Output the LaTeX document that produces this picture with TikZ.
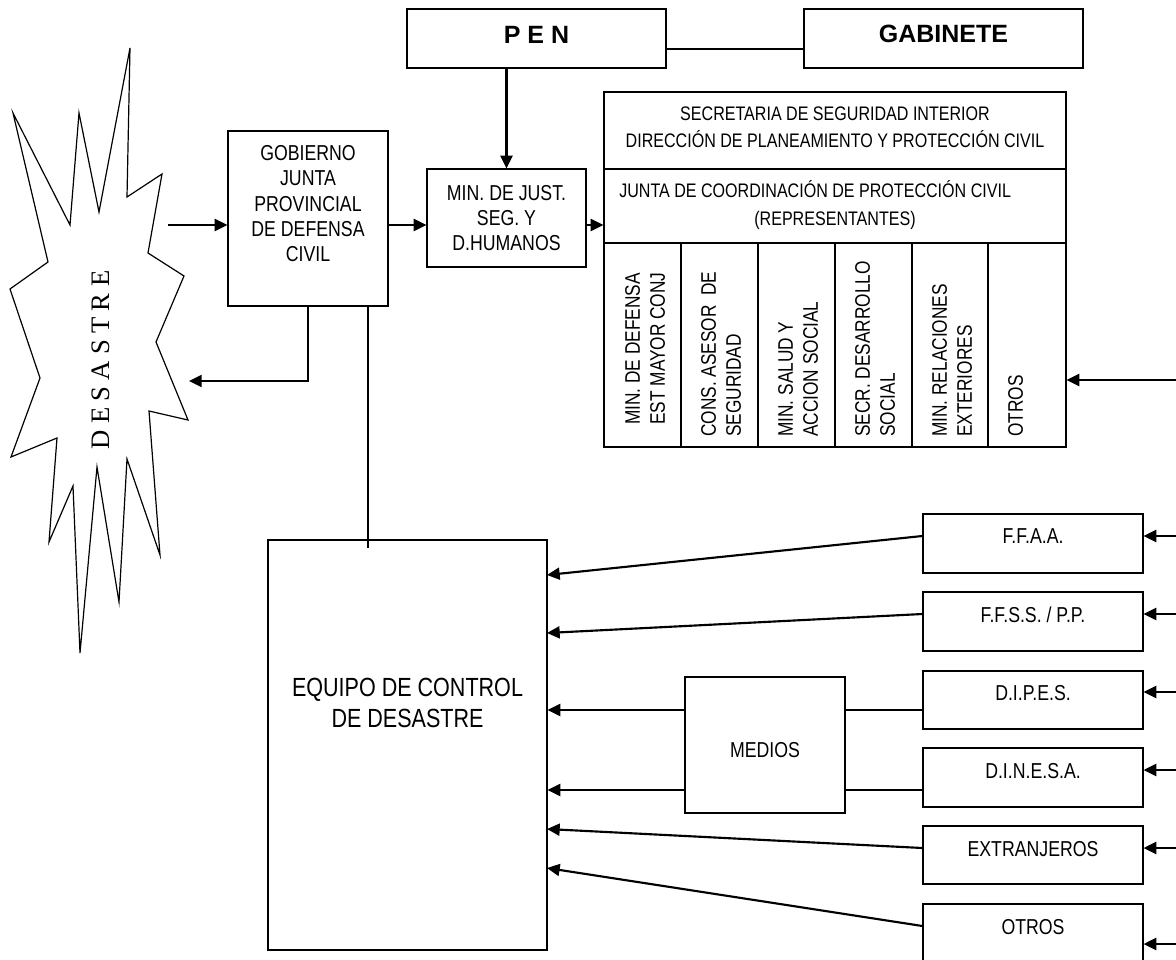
\documentclass[tikz,border=0pt]{standalone}
\usepackage{fontspec}
\setmainfont{Liberation Sans}
\newfontfamily\nar[FakeStretch=0.82]{Liberation Sans}
\newfontfamily\tms{Liberation Serif}
\usetikzlibrary{arrows.meta,fit}
\begin{document}
\begin{tikzpicture}[x=0.75pt,y=-0.75pt,
 box/.style={draw,line width=0.9pt,inner sep=0pt},
 arr/.style={line width=1.6pt,-{Triangle[length=9.5pt,width=9pt]}},
 thk/.style={line width=1.6pt},
 thn/.style={line width=0.8pt},
 tl/.style={inner sep=0pt,anchor=base,font=\nar\fontsize{16.2}{19}\selectfont},
 th/.style={inner sep=0pt,anchor=base,font=\nar\fontsize{14.7}{18}\selectfont},
 te/.style={inner sep=0pt,anchor=base,font=\nar\fontsize{19.7}{23}\selectfont},
 tb/.style={inner sep=0pt,anchor=base,font=\bfseries\fontsize{18.75}{22}\selectfont},
 tv/.style={inner sep=0pt,anchor=north west,rotate=90,align=left,font=\nar\fontsize{15.8}{18.75}\selectfont},
]
\useasboundingbox (0,0) rectangle (1176,959);
\clip (0,0) rectangle (1176,959);
\fill[white] (0,0) rectangle (1176,959);

% starburst
\draw[line width=0.9pt] (130,48) -- (127,197) -- (162,174) -- (148,253) -- (184,276) -- (156,342)
 -- (188,420) -- (149,411) -- (160,555) -- (127,459) -- (119,602) -- (97,467) -- (80,653)
 -- (73,486) -- (49,542) -- (57,438) -- (11,457) -- (40,378) -- (10,289) -- (48,262)
 -- (13,113) -- (70,225) -- (79,113) -- (99,212) -- cycle;
\node[inner sep=0pt,rotate=90,font=\tms\fontsize{20}{24}\selectfont] (des) at (101,360)
 {D\hspace{4.7pt}E\hspace{4.7pt}S\hspace{4.7pt}A\hspace{4.7pt}S\hspace{4.7pt}T\hspace{4.7pt}R\hspace{4.7pt}E};

% boxes
\node[box,fit={(407,9)(666,68)}] (pen) {};
\node[box,fit={(804,9)(1083,68)}] (gab) {};
\node[box,fit={(228,131)(388,306)}] (gob) {};
\node[box,fit={(427,169)(586,267)}] (min) {};
\node[box,fit={(604,92)(1066,447)}] (tab) {};
\node[box,fit={(268,540)(547,950)}] (eq) {};
\node[box,fit={(685,677)(845,813)}] (med) {};
\node[box,fit={(923,514)(1143,573)}] (ffaa) {};
\node[box,fit={(923,592)(1143,651)}] (ffss) {};
\node[box,fit={(923,671)(1143,729)}] (dipes) {};
\node[box,fit={(923,748)(1143,807)}] (dinesa) {};
\node[box,fit={(923,826)(1143,884)}] (extr) {};
\node[box,fit={(923,904)(1143,990)}] (otros) {};

% table inner lines
\draw[line width=0.9pt] (604,169) -- (1066,169);
\draw[line width=0.9pt] (604,243) -- (1066,243);
\foreach \x in {681,758,835,912,988} \draw[line width=0.9pt] (\x,243) -- (\x,447);

% texts
\node[tb] (tpen) at (536.5,44) {P E N};
\node[tb] (tgab) at (943.5,43) {GABINETE};
\node[tl] (g1) at (308,161) {GOBIERNO};
\node[tl] (g2) at (308,186) {JUNTA};
\node[tl] (g3) at (308,211) {PROVINCIAL};
\node[tl] (g4) at (308,236) {DE DEFENSA};
\node[tl] (g5) at (308,261) {CIVIL};
\node[tl] (m1t) at (506.5,200) {MIN. DE JUST.};
\node[tl] (m2t) at (506.5,225) {SEG. Y};
\node[tl] (m3t) at (506.5,250) {D.HUMANOS};
\node[th] (h1) at (835,121) {SECRETARIA DE SEGURIDAD INTERIOR};
\node[th] (h2) at (835,148) {DIRECCIÓN DE PLANEAMIENTO Y PROTECCIÓN CIVIL};
\node[th,anchor=base west] (h3) at (619,198) {JUNTA DE COORDINACIÓN DE PROTECCIÓN CIVIL};
\node[th] (h4) at (835,225) {(REPRESENTANTES)};
\node[tv] (c1) at (625,425) {MIN. DE DEFENSA\\EST MAYOR CONJ};
\node[tv] (c2) at (701,437) {CONS. ASESOR~ DE\\SEGURIDAD};
\node[tv] (c3) at (778,437) {MIN. SALUD Y\\ACCION SOCIAL};
\node[tv] (c4) at (855,437) {SECR. DESARROLLO\\SOCIAL};
\node[tv] (c5) at (932,437) {MIN. RELACIONES\\EXTERIORES};
\node[tv] (c6) at (1008,437) {OTROS};
\node[te] (e1t) at (407.5,696) {EQUIPO DE CONTROL};
\node[te] (e2t) at (407.5,727) {DE DESASTRE};
\node[tl] (tmed) at (765,757) {MEDIOS};
\node[tl] (t1) at (1033,543) {F.F.A.A.};
\node[tl] (t2) at (1033,622) {F.F.S.S. / P.P.};
\node[tl] (t3) at (1033,700) {D.I.P.E.S.};
\node[tl] (t4) at (1033,778) {D.I.N.E.S.A.};
\node[tl] (t5) at (1033,856) {EXTRANJEROS};
\node[tl] (t6) at (1033,934) {OTROS};

% connectors
\coordinate (dsrc) at (168,225);
\draw[arr] (dsrc) -- (dsrc -| gob.west);
\draw[arr] (dsrc -| gob.east) -- (dsrc -| min.west);
\draw[arr] (dsrc -| min.east) -- (dsrc -| tab.west);
\draw[arr] (pen.south -| min.north) -- (min.north);
\coordinate (pg) at (700,49);
\draw[thn] (pen.east |- pg) -- (gab.west |- pg);
\coordinate (ret) at (189,381);
\draw[arr] (gob.south) |- (ret);
\coordinate (eqin) at (368,548);
\draw[thn] (gob.south -| eqin) -- (eqin);
\coordinate (tabin) at (1176,380);
\draw[arr] (tabin) -- (tabin -| tab.east);

\coordinate (r1) at (1176,536);
\coordinate (r2) at (1176,614);
\coordinate (r3) at (1176,692);
\coordinate (r4) at (1176,770);
\coordinate (r5) at (1176,848);
\coordinate (r6) at (1176,944);
\draw[arr] (r1) -- (r1 -| ffaa.east);
\draw[arr] (r2) -- (r2 -| ffss.east);
\draw[arr] (r3) -- (r3 -| dipes.east);
\draw[arr] (r4) -- (r4 -| dinesa.east);
\draw[arr] (r5) -- (r5 -| extr.east);
\draw[arr] (r6) -- (r6 -| otros.east);

\coordinate (e1) at (547,575);
\coordinate (e2) at (547,633);
\coordinate (e5) at (547,829);
\coordinate (e6) at (547,868);
\coordinate (o6) at (923,926);
\coordinate (mA) at (800,710);
\coordinate (mB) at (800,790);
\draw[arr] (ffaa.west |- r1) -- (e1);
\draw[arr] (ffss.west |- r2) -- (e2);
\draw[thk] (dipes.west |- mA) -- (med.east |- mA);
\draw[arr] (med.west |- mA) -- (eq.east |- mA);
\draw[thk] (dinesa.west |- mB) -- (med.east |- mB);
\draw[arr] (med.west |- mB) -- (eq.east |- mB);
\draw[arr] (extr.west |- r5) -- (e5);
\draw[arr] (otros.west |- o6) -- (e6);
\end{tikzpicture}
\end{document}
